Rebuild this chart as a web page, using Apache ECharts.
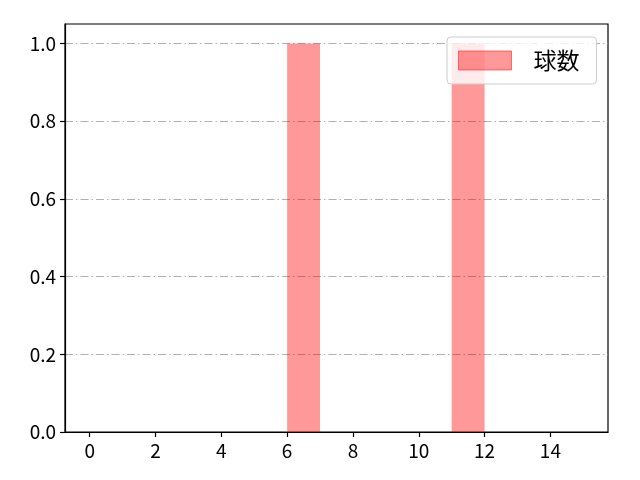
<!DOCTYPE html>
<html>
<head>
<meta charset="utf-8">
<script src="https://cdn.jsdelivr.net/npm/echarts@6/dist/echarts.min.js"></script>
<style>html,body{margin:0;padding:0;background:#fff}#c{width:640px;height:480px}</style>
</head>
<body>
<div id="c"></div>
<script>
const seriesName = '球数';
const binStarts = [0,1,2,3,4,5,6,7,8,9,10,11,12,13,14];
const binWidth = 1;
const counts = [0,0,0,0,0,0,1,0,0,0,0,1,0,0,0];
const xTicks = [0,2,4,6,8,10,12,14];
const yTicks = [0,0.2,0.4,0.6,0.8,1.0];

const font = '"Noto Sans CJK JP", "Noto Sans", sans-serif';
const data = binStarts.map((s,i)=>[s, s+binWidth, counts[i]]);
const chart = echarts.init(document.getElementById('c'), null, {renderer:'canvas'});
chart.setOption({
  animation:false,
  backgroundColor:'#fff',
  grid:{left:65,right:32,top:24,bottom:48,show:true,borderColor:'#000',borderWidth:1.2,backgroundColor:'transparent'},
  xAxis:{type:'value',min:-0.75,max:15.75,
    axisLine:{show:true,onZero:false,lineStyle:{color:'#000',width:1.2}},
    axisTick:{show:true,length:5,lineStyle:{color:'#000',width:1.2},customValues:xTicks},
    axisLabel:{customValues:xTicks,color:'#000',fontSize:19,fontFamily:font,margin:9},
    splitLine:{show:false}},
  yAxis:{type:'value',min:0,max:1.05,interval:0.2,
    axisLine:{show:true,onZero:false,lineStyle:{color:'#000',width:1.2}},
    axisTick:{show:true,length:5,lineStyle:{color:'#000',width:1.2},customValues:yTicks},
    axisLabel:{customValues:yTicks,color:'#000',fontSize:19,fontFamily:font,margin:9,formatter:v=>v.toFixed(1)},
    splitLine:{show:true,lineStyle:{color:'#b0b0b0',width:1,type:[8,3,1.5,3]}}},
  legend:{show:true,left:447,top:37,orient:'vertical',icon:'rect',itemWidth:53,itemHeight:19,
    backgroundColor:'rgba(255,255,255,0.8)',borderColor:'#cccccc',borderWidth:1,borderRadius:4,
    padding:[12,17,12,11],
    textStyle:{color:'#000',fontSize:23,fontFamily:font,padding:[0,0,0,17],lineHeight:21},
    data:[{name:seriesName,itemStyle:{color:'rgba(255,0,0,0.4)',borderColor:'rgba(255,0,0,0.5)',borderWidth:1}}]},
  series:[{
    name:seriesName,type:'custom',
    itemStyle:{color:'rgba(255,0,0,0.4)'},
    data:data,
    encode:{x:[0,1],y:2},
    renderItem:function(params,api){
      const h = api.value(2);
      if(!h) return null;
      const p0 = api.coord([api.value(0),0]);
      const p1 = api.coord([api.value(1),h]);
      return {type:'rect',shape:{x:p0[0],y:p1[1],width:p1[0]-p0[0],height:p0[1]-p1[1]},
        style:{fill:'rgba(255,0,0,0.4)',stroke:null}};
    }
  }]
});
</script>
</body>
</html>
